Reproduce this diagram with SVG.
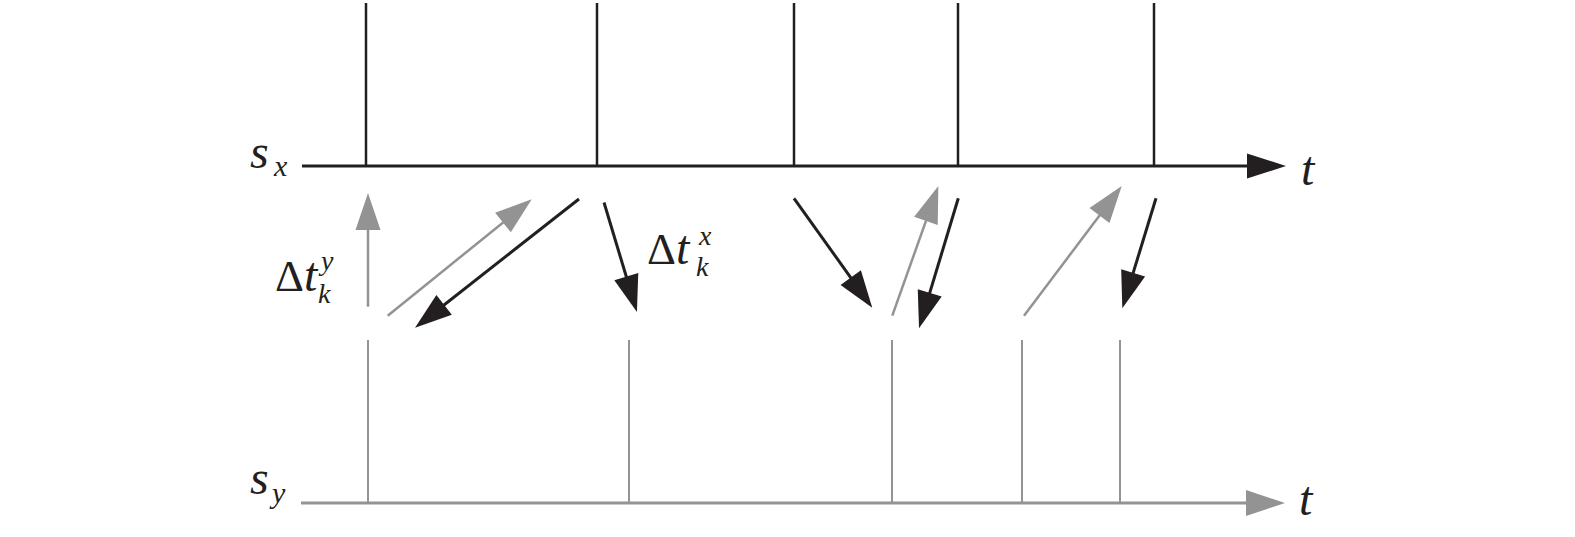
<svg xmlns="http://www.w3.org/2000/svg" width="1575" height="537" viewBox="0 0 1575 537">
<style>
.bk{stroke:#231f20;fill:none}
.gy{stroke:#939393;fill:none}
text{font-family:'Liberation Serif','Times New Roman','DejaVu Serif',serif;fill:#231f20}
.it{font-style:italic}
</style>
<defs>
<marker id="hb" markerUnits="userSpaceOnUse" markerWidth="40" markerHeight="26" refX="7" refY="12.5" orient="auto" overflow="visible">
<path d="M0,0 L37,12.5 L0,25 Z" fill="#231f20"/>
</marker>
<marker id="hg" markerUnits="userSpaceOnUse" markerWidth="40" markerHeight="26" refX="7" refY="12.5" orient="auto" overflow="visible">
<path d="M0,0 L37,12.5 L0,25 Z" fill="#939393"/>
</marker>
</defs>
<rect width="1575" height="537" fill="#ffffff"/>
<g id="axis-sx">
<line class="bk" x1="302" y1="166" x2="1255" y2="166" stroke-width="3"/>
<path d="M1247,153.5 L1286,166 L1247,178.5 Z" fill="#231f20"/>
<line class="bk" x1="366" y1="3" x2="366" y2="166" stroke-width="2.5"/>
<line class="bk" x1="597" y1="3" x2="597" y2="166" stroke-width="2.5"/>
<line class="bk" x1="794" y1="3" x2="794" y2="166" stroke-width="2.5"/>
<line class="bk" x1="958" y1="3" x2="958" y2="166" stroke-width="2.5"/>
<line class="bk" x1="1154" y1="3" x2="1154" y2="166" stroke-width="2.5"/>
<text class="it" x="250" y="168" font-size="48">s</text>
<text class="it" x="274" y="176" font-size="30">x</text>
<text class="it" x="1301" y="185" font-size="48">t</text>
</g>
<g id="axis-sy">
<line class="gy" x1="301" y1="503" x2="1254" y2="503" stroke-width="3"/>
<path d="M1246,490 L1285,503 L1246,516 Z" fill="#939393"/>
<line class="gy" x1="368" y1="340" x2="368" y2="503" stroke-width="2"/>
<line class="gy" x1="629" y1="340" x2="629" y2="503" stroke-width="2"/>
<line class="gy" x1="892" y1="340" x2="892" y2="503" stroke-width="2"/>
<line class="gy" x1="1022" y1="340" x2="1022" y2="503" stroke-width="2"/>
<line class="gy" x1="1120" y1="340" x2="1120" y2="503" stroke-width="2"/>
<text class="it" x="250" y="494" font-size="48">s</text>
<text class="it" x="272" y="503" font-size="30">y</text>
<text class="it" x="1299" y="515" font-size="48">t</text>
</g>
<g id="label-dty">
<text x="275" y="291" font-size="45">Δ</text>
<text class="it" x="304" y="291" font-size="48">t</text>
<text class="it" x="321" y="270" font-size="28">y</text>
<text class="it" x="318" y="303" font-size="28">k</text>
</g>
<g id="label-dtx">
<text x="647" y="264" font-size="45">Δ</text>
<text class="it" x="676" y="264" font-size="48">t</text>
<text class="it" x="699" y="245" font-size="28">x</text>
<text class="it" x="696" y="276" font-size="28">k</text>
</g>
<g id="connectors">
<line class="gy" x1="368" y1="306.7" x2="368" y2="223" stroke-width="2.5" marker-end="url(#hg)"/>
<line class="gy" x1="387.7" y1="315.7" x2="508.4" y2="218.2" stroke-width="2.5" marker-end="url(#hg)"/>
<line class="bk" x1="579" y1="199" x2="438.6" y2="309.2" stroke-width="3" marker-end="url(#hb)"/>
<line class="bk" x1="604" y1="202.5" x2="628.3" y2="283.3" stroke-width="3" marker-end="url(#hb)"/>
<line class="bk" x1="794" y1="198.3" x2="854.8" y2="283.3" stroke-width="3" marker-end="url(#hb)"/>
<line class="gy" x1="892.3" y1="315.7" x2="928.3" y2="214.3" stroke-width="2.5" marker-end="url(#hg)"/>
<line class="bk" x1="958.3" y1="198.3" x2="927.7" y2="299.6" stroke-width="3" marker-end="url(#hb)"/>
<line class="gy" x1="1024" y1="315.7" x2="1103.7" y2="210" stroke-width="2.5" marker-end="url(#hg)"/>
<line class="bk" x1="1156" y1="198.3" x2="1131.1" y2="279.6" stroke-width="3" marker-end="url(#hb)"/>
</g>
</svg>
